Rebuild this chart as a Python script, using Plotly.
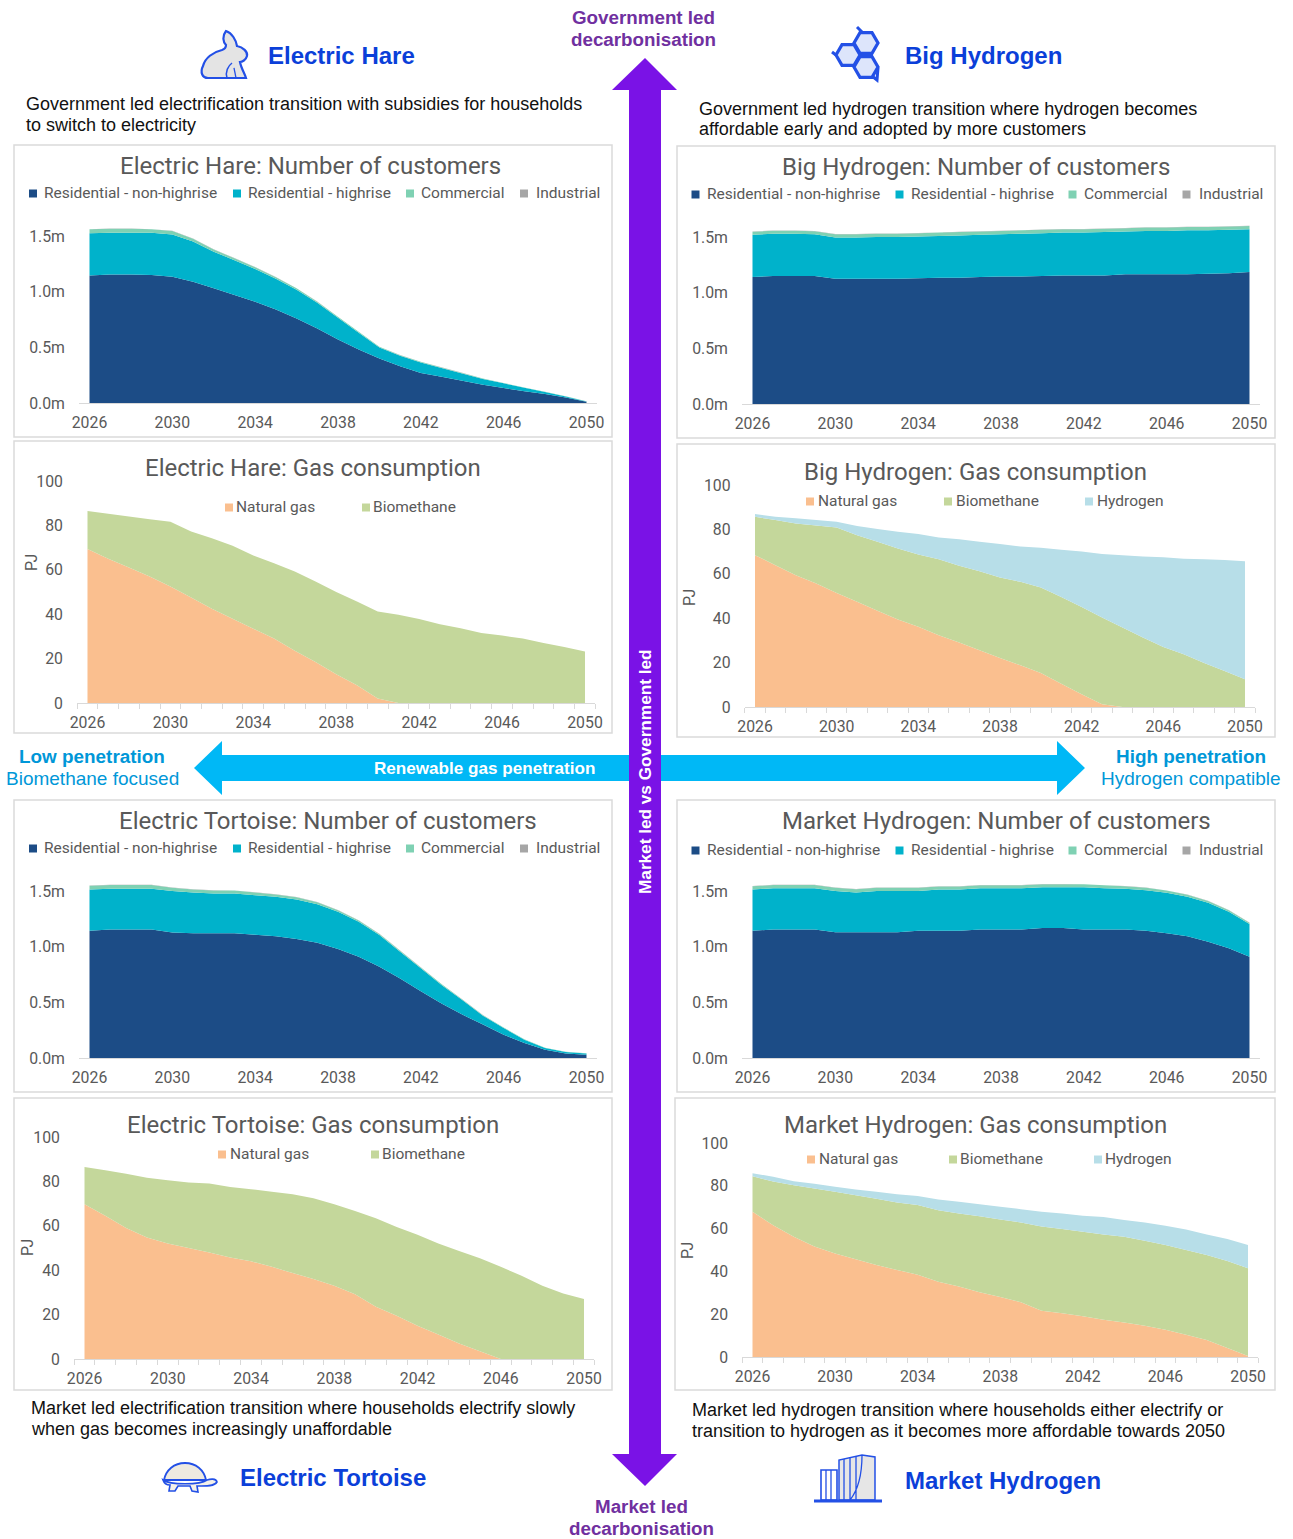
import math
import plotly.graph_objects as go

W, H = 1293, 1539

YEARS = list(range(2026, 2051))
YEAR_TICKS = [2026, 2030, 2034, 2038, 2042, 2046, 2050]

# Customer numbers, millions
EH_RES_NON_HIGHRISE = [1.145, 1.155, 1.155, 1.15, 1.135, 1.09, 1.03, 0.97, 0.91, 0.84, 0.76, 0.67, 0.57, 0.48, 0.40, 0.33, 0.27, 0.235, 0.20, 0.165, 0.135, 0.105, 0.08, 0.05, 0.012]
EH_RES_HIGHRISE = [0.38, 0.375, 0.375, 0.38, 0.38, 0.36, 0.33, 0.312, 0.294, 0.276, 0.258, 0.23, 0.196, 0.152, 0.098, 0.094, 0.095, 0.08, 0.066, 0.051, 0.042, 0.032, 0.018, 0.008, 0.002]
EH_COMMERCIAL = [0.035, 0.035, 0.035, 0.03, 0.03, 0.025, 0.02, 0.018, 0.016, 0.014, 0.012, 0.01, 0.009, 0.008, 0.007, 0.006, 0.005, 0.005, 0.004, 0.004, 0.003, 0.003, 0.002, 0.002, 0.001]
EH_INDUSTRIAL = [0.002, 0.002, 0.002, 0.002, 0.002, 0.002, 0.002, 0.002, 0.001, 0.001, 0.001, 0.001, 0.001, 0.001, 0.001, 0.001, 0.001, 0.001, 0.001, 0.001, 0.0, 0.0, 0.0, 0.0, 0.0]

BH_RES_NON_HIGHRISE = [1.14, 1.15, 1.15, 1.15, 1.125, 1.125, 1.125, 1.125, 1.13, 1.135, 1.135, 1.14, 1.145, 1.145, 1.15, 1.155, 1.155, 1.155, 1.165, 1.165, 1.165, 1.165, 1.17, 1.175, 1.185]
BH_RES_HIGHRISE = [0.38, 0.38, 0.38, 0.375, 0.37, 0.37, 0.375, 0.375, 0.375, 0.375, 0.38, 0.38, 0.38, 0.385, 0.385, 0.385, 0.385, 0.39, 0.385, 0.39, 0.39, 0.395, 0.39, 0.39, 0.385]
BH_COMMERCIAL = [0.027, 0.027, 0.027, 0.027, 0.03, 0.03, 0.03, 0.03, 0.03, 0.03, 0.03, 0.03, 0.03, 0.03, 0.03, 0.03, 0.03, 0.03, 0.03, 0.03, 0.03, 0.03, 0.03, 0.03, 0.03]
BH_INDUSTRIAL = [0.002, 0.002, 0.002, 0.002, 0.002, 0.002, 0.002, 0.002, 0.002, 0.002, 0.002, 0.002, 0.002, 0.002, 0.002, 0.002, 0.002, 0.002, 0.002, 0.002, 0.002, 0.002, 0.002, 0.002, 0.002]

ET_RES_NON_HIGHRISE = [1.143, 1.155, 1.155, 1.155, 1.128, 1.12, 1.12, 1.12, 1.108, 1.095, 1.07, 1.035, 0.98, 0.91, 0.82, 0.715, 0.60, 0.49, 0.39, 0.30, 0.21, 0.135, 0.075, 0.04, 0.03]
ET_RES_HIGHRISE = [0.37, 0.365, 0.365, 0.365, 0.372, 0.367, 0.358, 0.358, 0.355, 0.353, 0.354, 0.347, 0.333, 0.314, 0.285, 0.24, 0.206, 0.167, 0.13, 0.08, 0.06, 0.03, 0.015, 0.014, 0.01]
ET_COMMERCIAL = [0.035, 0.035, 0.035, 0.035, 0.03, 0.028, 0.028, 0.026, 0.025, 0.022, 0.02, 0.018, 0.015, 0.012, 0.01, 0.009, 0.008, 0.007, 0.006, 0.005, 0.004, 0.003, 0.003, 0.002, 0.002]
ET_INDUSTRIAL = [0.002, 0.002, 0.002, 0.002, 0.002, 0.002, 0.002, 0.002, 0.002, 0.002, 0.002, 0.001, 0.001, 0.001, 0.001, 0.001, 0.001, 0.001, 0.001, 0.001, 0.001, 0.0, 0.0, 0.0, 0.0]

MH_RES_NON_HIGHRISE = [1.143, 1.155, 1.155, 1.155, 1.13, 1.13, 1.13, 1.13, 1.143, 1.143, 1.143, 1.155, 1.155, 1.155, 1.167, 1.167, 1.155, 1.155, 1.155, 1.143, 1.12, 1.095, 1.045, 0.985, 0.91]
MH_RES_HIGHRISE = [0.37, 0.37, 0.37, 0.37, 0.37, 0.357, 0.37, 0.37, 0.357, 0.37, 0.37, 0.37, 0.37, 0.37, 0.367, 0.367, 0.379, 0.37, 0.365, 0.364, 0.364, 0.353, 0.349, 0.328, 0.293]
MH_COMMERCIAL = [0.03, 0.03, 0.03, 0.03, 0.03, 0.03, 0.03, 0.03, 0.03, 0.028, 0.028, 0.028, 0.028, 0.028, 0.028, 0.028, 0.026, 0.026, 0.024, 0.022, 0.02, 0.018, 0.016, 0.014, 0.012]
MH_INDUSTRIAL = [0.002, 0.002, 0.002, 0.002, 0.002, 0.002, 0.002, 0.002, 0.002, 0.002, 0.002, 0.002, 0.002, 0.002, 0.002, 0.002, 0.002, 0.002, 0.002, 0.002, 0.002, 0.002, 0.002, 0.002, 0.002]

# Gas consumption, PJ
EH_NATURAL_GAS = [69.4, 65, 61, 57, 52.5, 47.5, 42.5, 38, 33.5, 29, 23.5, 18.5, 13, 8, 2, 0, 0, 0, 0, 0, 0, 0, 0, 0, 0]
EH_BIOMETHANE = [17.1, 20.2, 23, 25.8, 29.2, 29.7, 31.7, 32.8, 32.9, 34, 35.7, 36.2, 37, 37.7, 39.2, 39.7, 37.8, 35.5, 33.7, 31.5, 30.4, 29, 27, 25.2, 23.2]

BH_NATURAL_GAS = [68.4, 63.9, 59.4, 55.6, 51.4, 47.4, 43.3, 39.4, 36.1, 32.3, 29, 25.6, 22.1, 18.8, 15.3, 10.5, 5.7, 1.2, 0, 0, 0, 0, 0, 0, 0]
BH_BIOMETHANE = [17.3, 20.3, 23.3, 26.2, 29.4, 30, 31.1, 32, 32.6, 34.2, 34.6, 35.6, 36.2, 37.6, 38.5, 39.1, 39.4, 39.1, 35.8, 31.3, 27, 23.8, 19.8, 16.2, 12.5]
BH_HYDROGEN = [1.2, 1.5, 2.3, 2.4, 2.7, 4.1, 5.8, 7.5, 9.2, 9.9, 12, 13.2, 15.1, 15.9, 17.9, 21.2, 25, 28.6, 32.6, 36.5, 40.4, 43, 46.8, 50, 53.1]

ET_NATURAL_GAS = [69.7, 64.5, 59, 54.7, 52, 50, 48, 45.7, 44, 41.5, 38.7, 36, 33, 29.2, 23.5, 19.5, 15, 11, 7, 3.5, 0, 0, 0, 0, 0]
ET_BIOMETHANE = [16.8, 20.5, 24.5, 27, 28.5, 29.5, 31, 31.8, 32.5, 33.8, 35.5, 36.4, 36.7, 37.5, 39.9, 40, 41, 41, 41.7, 41.9, 41.5, 37.5, 33, 29.5, 27]

MH_NATURAL_GAS = [67.9, 61.6, 56.2, 51.6, 48.4, 45.7, 43, 40.7, 38.4, 35.2, 33, 30.3, 28, 25.6, 21.6, 20.5, 19, 17.4, 16.1, 14.6, 12.7, 10.4, 8, 4.2, 0.5]
MH_BIOMETHANE = [16.6, 20.4, 24.1, 27.1, 28.8, 29.9, 31, 31.5, 32.6, 33.4, 34, 35.5, 36.3, 37.3, 39.4, 39.3, 39.5, 39.9, 40.1, 39.7, 39.6, 39.6, 39.7, 40.7, 41]
MH_HYDROGEN = [1.4, 2.2, 1.8, 2.3, 2.3, 2.7, 3.2, 3.8, 4.2, 5, 5.5, 5.6, 5.9, 6.2, 6.9, 7.3, 7.5, 8.1, 7.8, 8.6, 9, 9.6, 9.6, 10.2, 10.8]

CUSTOMER_LABELS = ["Residential - non-highrise", "Residential - highrise", "Commercial", "Industrial"]
CUSTOMER_COLORS = ["#1C4C86", "#00B2CB", "#7FD1B3", "#A6A6A6"]
GAS_COLORS = {"Natural gas": "#FABF8F", "Biomethane": "#C4D79B", "Hydrogen": "#B7DEE8"}
MILLION_TICKS = [0, 0.5, 1.0, 1.5]
MILLION_TICK_LABELS = ["0.0m", "0.5m", "1.0m", "1.5m"]
PJ_TICKS = [0, 20, 40, 60, 80, 100]
PJ_TICK_LABELS = ["0", "20", "40", "60", "80", "100"]

CHART_FONT = "Roboto"
TEXT_FONT = "Liberation Sans"
GREY = "#595959"
BORDER = "#DADADA"
HEADING = "#0B3FD9"
ICON = "#2350E6"
PURPLE_TEXT = "#7030A0"
PURPLE = "#7A12E6"
CYAN = "#00B8F6"
CYAN_TEXT = "#0097D8"


def fx(x):
    return x / W


def fy(y):
    return 1 - y / H


def px_path(d):
    """Turn an SVG path written in page pixels into paper coordinates."""
    out, i = [], 0
    for tok in d.split():
        if tok.isalpha():
            out.append(tok)
            i = 0
        else:
            v = float(tok)
            out.append(f"{fx(v):.5f}" if i % 2 == 0 else f"{fy(v):.5f}")
            i += 1
    return " ".join(out)


shapes, annotations = [], []


def text(x, y, s, size, color, font=TEXT_FONT, anchor="center", bold=False, angle=0):
    # Placed on a hidden page-sized axis pair so nothing pushes the margins
    annotations.append(dict(
        x=x - 1 if anchor == "left" else x, y=y, xref="x9", yref="y9", xanchor=anchor, yanchor="middle",
        text=f"<b>{s}</b>" if bold else s, showarrow=False, textangle=angle, borderpad=0,
        font=dict(family=font, size=size, color=color),
    ))


def path(d, fill=None, line=None, width=1.0):
    shapes.append(dict(
        type="path", xref="paper", yref="paper", path=px_path(d), layer="above",
        fillcolor=fill or "rgba(0,0,0,0)",
        line=dict(color=line or "rgba(0,0,0,0)", width=width if line else 0),
    ))


def box(x0, y0, x1, y1, fill=None, line=None, width=1.0):
    shapes.append(dict(
        type="rect", xref="paper", yref="paper", layer="above",
        x0=fx(x0), x1=fx(x1), y0=fy(y1), y1=fy(y0),
        fillcolor=fill or "rgba(0,0,0,0)",
        line=dict(color=line or "rgba(0,0,0,0)", width=width if line else 0),
    ))


fig = go.Figure()


def panel(n, frame, title, title_xy, x_first, x_last, y_zero, y_top, px_per_unit, series, colors,
          y_ticks, y_labels, legend_y, legend_items, pj_xy=None):
    """One framed stacked-area chart; positions are given in page pixels."""
    xaxis, yaxis = f"xaxis{n}", f"yaxis{n}"
    step = (x_last - x_first) / 24
    left, right = x_first - step / 2, x_last + step / 2
    for (name, values), color in zip(series, colors):
        fig.add_trace(go.Scatter(
            x=YEARS, y=values, name=name, mode="none", stackgroup=f"panel{n}",
            fillcolor=color, xaxis=f"x{n}", yaxis=f"y{n}", showlegend=False,
        ))
    tick_font = dict(family=CHART_FONT, size=15.8, color=GREY)
    gas = pj_xy is not None
    fig.update_layout({
        xaxis: dict(
            domain=[fx(left), fx(right)], range=[2025.5, 2050.5], anchor=f"y{n}", automargin=False,
            tickmode="array", tickvals=YEAR_TICKS, ticktext=[str(y) for y in YEAR_TICKS],
            showgrid=False, zeroline=False, showline=True, linecolor="#D9D9D9", linewidth=1.2,
            ticks="outside", ticklen=5, tickcolor="rgba(0,0,0,0)", tickfont=tick_font,
            minor=dict(ticks="outside", tick0=2025.5, dtick=1, ticklen=5, tickcolor="#D9D9D9",
                       tickwidth=1, showgrid=False) if gas else dict(ticks=""),
        ),
        yaxis: dict(
            domain=[fy(y_zero), fy(y_top)], range=[0, (y_zero - y_top) / px_per_unit], anchor=f"x{n}",
            automargin=False, tickmode="array", tickvals=y_ticks, ticktext=y_labels,
            showgrid=False, zeroline=False, showline=False,
            ticks="outside", ticklen=10, tickcolor="rgba(0,0,0,0)", tickfont=tick_font,
        ),
    })
    box(*frame, line=BORDER, width=1.5)
    text(title_xy[0], title_xy[1], title, 24, GREY, font=CHART_FONT)
    if pj_xy is not None:
        text(pj_xy[0], pj_xy[1], "PJ", 16, GREY, font=CHART_FONT, angle=-90)
    for (swatch_x, text_x, label), color in zip(legend_items, colors):
        box(swatch_x, legend_y - 3.5, swatch_x + 8, legend_y + 4.5, fill=color)
        text(text_x, legend_y, label, 15.5, GREY, font=CHART_FONT, anchor="left")


def customer_legend(dx):
    return [(29 + dx, 44 + dx, CUSTOMER_LABELS[0]), (233 + dx, 248 + dx, CUSTOMER_LABELS[1]),
            (406 + dx, 421 + dx, CUSTOMER_LABELS[2]), (520 + dx, 536 + dx, CUSTOMER_LABELS[3])]


GAS2 = [GAS_COLORS["Natural gas"], GAS_COLORS["Biomethane"]]
GAS3 = GAS2 + [GAS_COLORS["Hydrogen"]]


def customers(non_high, high, comm, ind):
    return list(zip(CUSTOMER_LABELS, [non_high, high, comm, ind]))


panel(1, (14, 145, 612, 437), "Electric Hare: Number of customers", (310, 166), 89.5, 586.5, 403, 222, 111.3,
      customers(EH_RES_NON_HIGHRISE, EH_RES_HIGHRISE, EH_COMMERCIAL, EH_INDUSTRIAL), CUSTOMER_COLORS,
      MILLION_TICKS, MILLION_TICK_LABELS, 193, customer_legend(0))
panel(2, (14, 441, 612, 733), "Electric Hare: Gas consumption", (313, 468), 87.5, 585, 703, 470, 2.22,
      [("Natural gas", EH_NATURAL_GAS), ("Biomethane", EH_BIOMETHANE)], GAS2, PJ_TICKS, PJ_TICK_LABELS, 507,
      [(225, 236, "Natural gas"), (362, 373, "Biomethane")], pj_xy=(31, 563))
panel(3, (677, 146, 1275, 438), "Big Hydrogen: Number of customers", (976, 167), 752.5, 1249.5, 404, 223, 111.3,
      customers(BH_RES_NON_HIGHRISE, BH_RES_HIGHRISE, BH_COMMERCIAL, BH_INDUSTRIAL), CUSTOMER_COLORS,
      MILLION_TICKS, MILLION_TICK_LABELS, 194, customer_legend(662.5))
panel(4, (677, 444, 1275, 737), "Big Hydrogen: Gas consumption", (975, 472), 755, 1245, 707, 474, 2.22,
      [("Natural gas", BH_NATURAL_GAS), ("Biomethane", BH_BIOMETHANE), ("Hydrogen", BH_HYDROGEN)], GAS3,
      PJ_TICKS, PJ_TICK_LABELS, 501,
      [(806, 818, "Natural gas"), (944, 956, "Biomethane"), (1085, 1097, "Hydrogen")], pj_xy=(689, 598))
panel(5, (14, 800, 612, 1092), "Electric Tortoise: Number of customers", (328, 821), 89.5, 586.5, 1058, 877, 111.3,
      customers(ET_RES_NON_HIGHRISE, ET_RES_HIGHRISE, ET_COMMERCIAL, ET_INDUSTRIAL), CUSTOMER_COLORS,
      MILLION_TICKS, MILLION_TICK_LABELS, 848, customer_legend(0))
panel(6, (14, 1098, 612, 1390), "Electric Tortoise: Gas consumption", (313, 1125), 84.5, 584, 1359, 1126, 2.22,
      [("Natural gas", ET_NATURAL_GAS), ("Biomethane", ET_BIOMETHANE)], GAS2, PJ_TICKS, PJ_TICK_LABELS, 1154,
      [(218, 230, "Natural gas"), (371, 382, "Biomethane")], pj_xy=(27, 1248))
panel(7, (677, 800, 1275, 1092), "Market Hydrogen: Number of customers", (996, 821), 752.5, 1249.5, 1058, 877, 111.3,
      customers(MH_RES_NON_HIGHRISE, MH_RES_HIGHRISE, MH_COMMERCIAL, MH_INDUSTRIAL), CUSTOMER_COLORS,
      MILLION_TICKS, MILLION_TICK_LABELS, 850, customer_legend(662.5))
panel(8, (675, 1098, 1275, 1390), "Market Hydrogen: Gas consumption", (975, 1125), 752.5, 1248, 1357, 1132, 2.14,
      [("Natural gas", MH_NATURAL_GAS), ("Biomethane", MH_BIOMETHANE), ("Hydrogen", MH_HYDROGEN)], GAS3,
      PJ_TICKS, PJ_TICK_LABELS, 1159,
      [(807, 819, "Natural gas"), (949, 960, "Biomethane"), (1094, 1105, "Hydrogen")], pj_xy=(687, 1251))

# Renewable gas penetration arrow, then the vertical arrow over it
path("M 194 768 L 222 741 L 222 755 L 1057 755 L 1057 741 L 1085 768 L 1057 795 L 1057 781 L 222 781 L 222 795 Z", fill=CYAN)
path("M 645 58 L 677 90 L 661 90 L 661 1454 L 677 1454 L 645 1486 L 612 1454 L 629 1454 L 629 90 L 612 90 Z", fill=PURPLE)
text(484, 768, "Renewable gas penetration", 17.1, "#FFFFFF", bold=True)
text(644.5, 771.5, "Market led vs Government led", 17.2, "#FFFFFF", bold=True, angle=-90)

text(643, 17, "Government led", 18.8, PURPLE_TEXT, bold=True)
text(643, 39, "decarbonisation", 18.8, PURPLE_TEXT, bold=True)
text(641, 1506, "Market led", 18.8, PURPLE_TEXT, bold=True)
text(641, 1528, "decarbonisation", 18.8, PURPLE_TEXT, bold=True)

text(92, 756, "Low penetration", 18.9, CYAN_TEXT, bold=True)
text(92, 778, "Biomethane focused", 19, CYAN_TEXT)
text(1191, 756, "High penetration", 18.9, CYAN_TEXT, bold=True)
text(1191, 778, "Hydrogen compatible", 19, CYAN_TEXT)

# Scenario headings and descriptions
text(268, 55, "Electric Hare", 24, HEADING, anchor="left", bold=True)
text(905, 55, "Big Hydrogen", 24, HEADING, anchor="left", bold=True)
text(240, 1477, "Electric Tortoise", 24, HEADING, anchor="left", bold=True)
text(905, 1480, "Market Hydrogen", 24, HEADING, anchor="left", bold=True)

text(26, 104, "Government led electrification transition with subsidies for households", 18, "#111111", anchor="left")
text(26, 125, "to switch to electricity", 18, "#111111", anchor="left")
text(699, 109, "Government led hydrogen transition where hydrogen becomes", 18, "#111111", anchor="left")
text(699, 129, "affordable early and adopted by more customers", 18, "#111111", anchor="left")
text(31, 1408, "Market led electrification transition where households electrify slowly", 18, "#111111", anchor="left")
text(31, 1429, "when gas becomes increasingly unaffordable", 18, "#111111", anchor="left")
text(692, 1410, "Market led hydrogen transition where households either electrify or", 18, "#111111", anchor="left")
text(692, 1431, "transition to hydrogen as it becomes more affordable towards 2050", 18, "#111111", anchor="left")

# Hare icon
path("M 226 31 C 232 33 236 40 237 46 C 243 47 248 52 247 56 C 246 60 242 62 240 62 "
     "C 241 68 245 74 246 78 L 218 78 L 208 78 C 202 78 200 72 203 66 C 205 58 213 52 222 50 "
     "C 225 49 226 47 226 45 C 223 42 222 36 226 31 Z", fill="#E4E4E4", line=ICON, width=2.2)
path("M 227 78 C 225 72 228 66 232 63", line=ICON, width=1.5)
path("M 236 78 L 234 68", line=ICON, width=1.3)

# Hydrogen icon: three joined hexagons
for cx, cy in [(866, 43), (848, 55), (866, 67)]:
    pts = [(cx + 12 * math.cos(math.radians(a)), cy + 12 * math.sin(math.radians(a))) for a in range(0, 360, 60)]
    d = "M " + " L ".join(f"{p[0]:.1f} {p[1]:.1f}" for p in pts) + " Z"
    path(d, fill="#DDE5FB", line=ICON, width=3.2)
path("M 857 27 L 862 32", line=ICON, width=3)
path("M 878 68 L 877 80 L 872 76", line=ICON, width=3)
path("M 832 52 L 836 55", line=ICON, width=3)

# Tortoise icon
path("M 164 1480 C 166 1470 174 1463 185 1463 C 196 1463 204 1470 206 1480 Z", fill="#EEEAE0", line=ICON, width=1.8)
path("M 163 1480 C 170 1485 200 1485 207 1480 C 210 1479 216 1478 217 1482 C 214 1487 204 1486 197 1486 "
     "L 198 1492 L 192 1491 L 190 1486 L 178 1486 L 175 1491 L 169 1491 L 170 1485 C 167 1485 164 1483 163 1480 Z",
     fill="#F4F1E9", line=ICON, width=1.6)

# Towers icon
box(821, 1470, 837, 1500, fill="#FFFFFF", line=ICON, width=1.6)
path("M 826 1470 L 826 1500 M 831 1470 L 831 1500", line=ICON, width=1.3)
path("M 839 1500 L 839 1460 L 862 1455 L 875 1457 L 875 1500 Z", fill="#E6E6E6", line=ICON, width=1.5)
path("M 844 1459 L 844 1500 M 850 1458 L 850 1500 M 856 1456 L 856 1500 M 862 1455 C 862 1475 858 1490 850 1500", line=ICON, width=1.3)
path("M 814 1501 L 882 1501", line=ICON, width=3)

# Hidden page-sized axes that carry the text labels
fig.add_trace(go.Scatter(x=[], y=[], xaxis="x9", yaxis="y9", showlegend=False, hoverinfo="skip"))
fig.update_layout(
    xaxis9=dict(domain=[0, 1], range=[0, W], anchor="y9", visible=False, fixedrange=True, automargin=False),
    yaxis9=dict(domain=[0, 1], range=[H, 0], anchor="x9", visible=False, fixedrange=True, automargin=False),
    width=W, height=H, autosize=False, margin=dict(l=0, r=0, t=0, b=0, pad=0),
    paper_bgcolor="white", plot_bgcolor="rgba(0,0,0,0)",
    showlegend=False, shapes=shapes, annotations=annotations,
)
fig.write_html("out.html")
